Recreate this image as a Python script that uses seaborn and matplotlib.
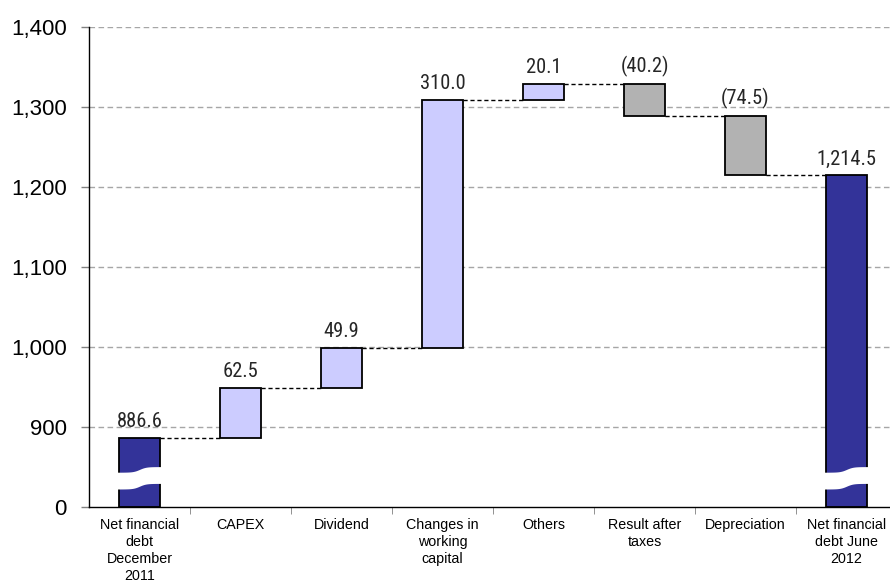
import matplotlib
matplotlib.use("Agg")
import matplotlib.pyplot as plt
import seaborn as sns
import numpy as np
import pandas as pd
from matplotlib import font_manager

# ---- data ----
categories = ["Net financial\ndebt\nDecember\n2011", "CAPEX", "Dividend",
              "Changes in\nworking\ncapital", "Others", "Result after\ntaxes",
              "Depreciation", "Net financial\ndebt June\n2012"]
values = [886.6, 62.5, 49.9, 310.0, 20.1, -40.2, -74.5, 1214.5]
kinds = ["total", "up", "up", "up", "up", "down", "down", "total"]
value_labels = ["886.6", "62.5", "49.9", "310.0", "20.1", "(40.2)", "(74.5)", "1,214.5"]
ytick_values = [800, 900, 1000, 1100, 1200, 1300, 1400]
ytick_labels = ["0", "900", "1,000", "1,100", "1,200", "1,300", "1,400"]
axis_floor = 800  # broken axis: shown as "0"

colors = {"total": "#333399", "up": "#CCCCFF", "down": "#B2B2B2"}

# ---- waterfall geometry ----
bottoms, heights, levels = [], [], []
running = 0.0
for v, k in zip(values, kinds):
    if k == "total":
        bottoms.append(axis_floor)
        heights.append(v - axis_floor)
        running = v
    else:
        bottoms.append(running if v > 0 else running + v)
        heights.append(abs(v))
        running += v
    levels.append(running)

df = pd.DataFrame({"cat": categories, "height": heights})

sns.set_style("white")
plt.rcParams["font.family"] = ["Liberation Sans", "DejaVu Sans"]

available = {f.name for f in font_manager.fontManager.ttflist}
narrow = None
for cand in ["Liberation Sans Narrow", "Roboto Condensed", "DejaVu Sans Condensed"]:
    if cand in available:
        narrow = cand
        break
label_family = [narrow, "Liberation Sans"] if narrow else ["Liberation Sans"]
label_size = 14.8 if narrow else 12.5

fig = plt.figure(figsize=(8.9, 5.83), dpi=100)
ax = fig.add_axes([89 / 890, 76 / 583, 808 / 890, 480 / 583])

bw = 0.41
sns.barplot(data=df, x="cat", y="height", bottom=bottoms, width=bw,
            color="#CCCCFF", edgecolor="black", linewidth=1.3,
            errorbar=None, ax=ax, zorder=3)
for p, k in zip(ax.patches, kinds):
    p.set_facecolor(colors[k])

ax.set_xlim(-0.5, 7.5)
ax.set_ylim(axis_floor, 1400)

# gridlines
for yv in ytick_values[1:]:
    ax.axhline(yv, color="#A6A6A6", lw=1, ls=(0, (4, 2.5)), zorder=1)

# connectors
for i in range(len(values) - 1):
    ax.plot([i + bw / 2, i + 1 - bw / 2], [levels[i], levels[i]],
            color="black", lw=1, ls=(0, (3, 2)), zorder=2)

# value labels
for i, lab in enumerate(value_labels):
    top = bottoms[i] + heights[i]
    ax.annotate(lab, (i, top), xytext=(0, 5), textcoords="offset points",
                ha="center", va="bottom", fontsize=label_size,
                family=label_family, zorder=5)

# axis break marks on total bars
t = np.linspace(0, 1, 80)
for i, k in enumerate(kinds):
    if k == "total":
        xs = i - bw / 2 - 0.02 + t * (bw + 0.04)
        wave = 3.5 * np.tanh((t - 0.5) * 7)
        ax.fill_between(xs, 826 + wave, 847 + wave, color="white", zorder=4, lw=0)

# axes styling
ax.set_yticks(ytick_values)
ax.set_yticklabels(ytick_labels, fontsize=16)
ax.tick_params(axis="y", colors="#808080", labelcolor="black", length=6, width=1, pad=10, left=True)
ax.set_xticks(range(len(categories)))
ax.set_xticklabels(categories, fontsize=10.3, linespacing=1.27)
ax.tick_params(axis="x", length=0, pad=8, labelcolor="black")
ax.set_xticks(np.arange(0.5, 7.5, 1), minor=True)
ax.tick_params(axis="x", which="minor", length=5, color="#808080", bottom=True)
ax.set_xlabel("")
ax.set_ylabel("")
for s in ["top", "right"]:
    ax.spines[s].set_visible(False)
for s in ["left", "bottom"]:
    ax.spines[s].set_color("black")
    ax.spines[s].set_linewidth(1)
    ax.spines[s].set_zorder(6)

fig.savefig("out.png", dpi=100)
